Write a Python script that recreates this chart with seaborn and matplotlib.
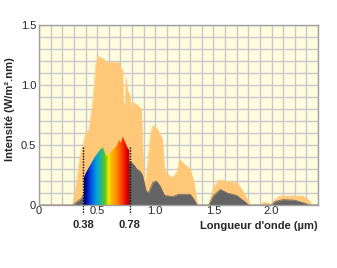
import numpy as np
import pandas as pd
import matplotlib
matplotlib.use("Agg")
import matplotlib.pyplot as plt
from matplotlib.colors import LinearSegmentedColormap
import seaborn as sns

# ---- data ----
orange_x = [0.0, 0.29, 0.32, 0.35, 0.40, 0.43, 0.465, 0.49, 0.51, 0.55, 0.58, 0.69, 0.70, 0.72,
            0.725, 0.74, 0.75, 0.76, 0.78, 0.79, 0.80, 0.85, 0.88, 0.895, 0.91, 0.93, 0.96, 0.98,
            1.02, 1.06, 1.08, 1.10, 1.15, 1.19, 1.21, 1.24, 1.30, 1.33, 1.36, 1.37, 1.46, 1.50,
            1.55, 1.60, 1.70, 1.75, 1.82, 1.91, 1.93, 1.97, 1.99, 2.01, 2.07, 2.27, 2.33, 2.35, 2.40]
orange_y = [0.0, 0.0, 0.17, 0.40, 0.59, 0.63, 0.88, 1.18, 1.24, 1.22, 1.19, 1.19, 1.15, 1.12,
            0.85, 0.85, 1.06, 0.96, 0.92, 0.77, 0.86, 0.83, 0.80, 0.40, 0.15, 0.30, 0.60, 0.66,
            0.63, 0.55, 0.30, 0.26, 0.23, 0.28, 0.38, 0.35, 0.30, 0.20, 0.02, 0.0, 0.0, 0.15,
            0.21, 0.20, 0.19, 0.12, 0.0, 0.0, 0.025, 0.02, 0.0, 0.03, 0.075, 0.075, 0.03, 0.0, 0.0]

gray_x = [0.0, 0.29, 0.33, 0.37, 0.38, 0.78, 0.79, 0.82, 0.84, 0.87, 0.89, 0.92, 0.94, 0.98,
          1.01, 1.04, 1.08, 1.15, 1.20, 1.30, 1.33, 1.36, 1.46, 1.50, 1.56, 1.62, 1.70, 1.78,
          1.80, 2.00, 2.03, 2.10, 2.20, 2.30, 2.32, 2.40]
gray_y = [0.0, 0.0, 0.03, 0.06, 0.08, 0.36, 0.36, 0.33, 0.30, 0.28, 0.25, 0.12, 0.10, 0.19,
          0.20, 0.16, 0.08, 0.07, 0.09, 0.09, 0.05, 0.0, 0.0, 0.08, 0.13, 0.10, 0.08, 0.02,
          0.0, 0.0, 0.03, 0.045, 0.04, 0.01, 0.0, 0.0]

spectrum_x = [0.385, 0.387, 0.404, 0.48, 0.525, 0.55, 0.576, 0.61, 0.67, 0.69, 0.705, 0.72,
              0.765, 0.777, 0.78]
spectrum_y = [0.0, 0.23, 0.27, 0.40, 0.46, 0.48, 0.41, 0.43, 0.50, 0.54, 0.52, 0.57,
              0.47, 0.46, 0.0]

visible_bounds = [0.38, 0.78]
visible_labels = ["0.38", "0.78"]
x_ticks = [0, 0.5, 1.0, 1.5, 2.0]
x_ticklabels = ["0", "0.5", "1.0", "1.5", "2.0"]
y_ticks = [0, 0.5, 1.0, 1.5]
y_ticklabels = ["0", "0.5", "1.0", "1.5"]

# ---- style ----
sns.set_style("white")
plt.rcParams['font.family'] = ['Liberation Sans', 'DejaVu Sans']

fig = plt.figure(figsize=(3.37, 2.68), dpi=100)
ax = fig.add_axes([39/337, 1 - 205/268, (318 - 39)/337, 180/268])
ax.set_facecolor("#fffde0")

# grid
ax.set_xticks(np.arange(0, 2.41, 0.1), minor=True)
ax.set_yticks(np.arange(0, 1.51, 0.1), minor=True)
ax.grid(which="minor", color="#c8c8c8", linewidth=1.0)
ax.grid(which="major", color="#c8c8c8", linewidth=1.0)
ax.set_axisbelow(False)

df_o = pd.DataFrame({"x": orange_x, "y": orange_y})
df_g = pd.DataFrame({"x": gray_x, "y": gray_y})
df_s = pd.DataFrame({"x": spectrum_x, "y": spectrum_y})

ax.fill_between(df_o.x, 0, df_o.y, color="#ffc878", linewidth=0, zorder=3)
sns.lineplot(data=df_o, x="x", y="y", ax=ax, color="#ffc878", linewidth=0.5, zorder=3,
             estimator=None, sort=False)
ax.fill_between(df_g.x, 0, df_g.y, color="#646464", linewidth=0, zorder=4)
sns.lineplot(data=df_g, x="x", y="y", ax=ax, color="#646464", linewidth=0.5, zorder=4,
             estimator=None, sort=False)

# spectrum gradient clipped to its polygon
poly = ax.fill_between(df_s.x, 0, df_s.y, color="none", linewidth=0, zorder=5)
cmap = LinearSegmentedColormap.from_list("spec", [
    (0.0, "#000070"), (0.06, "#0010b0"), (0.15, "#0050e0"), (0.27, "#00a0e0"),
    (0.36, "#20b890"), (0.44, "#50c030"), (0.5, "#a0d800"), (0.53, "#f0f000"),
    (0.58, "#ffc000"), (0.7, "#ff9000"), (0.82, "#ff4000"), (0.93, "#e00000"),
    (1.0, "#a00000")])
grad = np.linspace(0, 1, 256).reshape(1, -1)
im = ax.imshow(grad, extent=[0.385, 0.78, 0, 0.6], aspect="auto", cmap=cmap, zorder=5,
               interpolation="bilinear")
im.set_clip_path(poly.get_paths()[0], transform=ax.transData)

ax.set_xlim(0, 2.4)
ax.set_ylim(0, 1.5)

# dashed boundary lines
for xb in visible_bounds:
    ax.plot([xb, xb], [0.48, -0.075], color="black", linestyle=(0, (1, 1)), linewidth=1.0,
            zorder=6, clip_on=False)

for xb, lab in zip(visible_bounds, visible_labels):
    ax.text(xb, -0.11, lab, transform=ax.get_xaxis_transform(), ha="center", va="center",
            fontsize=8, fontweight="bold")

ax.set_xticks(x_ticks)
ax.set_xticklabels(x_ticklabels)
ax.set_yticks(y_ticks)
ax.set_yticklabels(y_ticklabels)
ax.tick_params(axis="both", which="both", length=0, labelsize=8, pad=2)
ax.tick_params(axis="x", pad=1)

ax.text(1.0, -0.115, "Longueur d'onde (µm)", transform=ax.transAxes, ha="right",
        va="center", fontsize=8, fontweight="bold")
ax.set_xlabel("")
ax.set_ylabel("Intensité (W/m².nm)", fontsize=8, fontweight="bold")
ax.yaxis.set_label_coords(-0.086, 0.53)

for s in ax.spines.values():
    s.set_color("#a0a0a0")
    s.set_linewidth(1.0)
    s.set_zorder(7)

fig.savefig("out.png", dpi=100, facecolor="white")
